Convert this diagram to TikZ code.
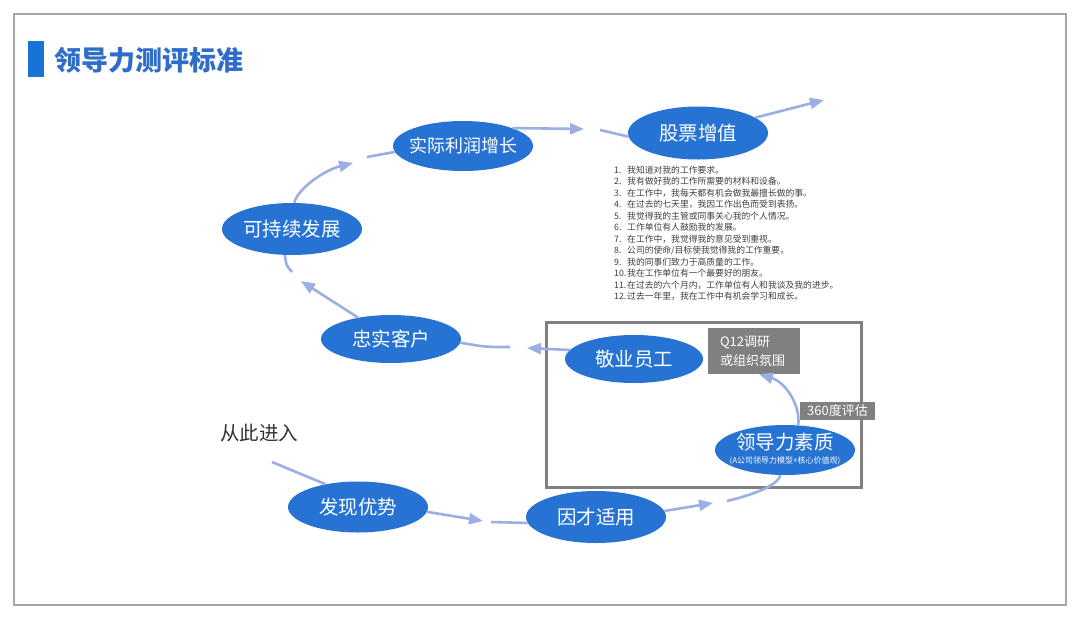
\documentclass[tikz,border=0pt]{standalone}
\usepackage{fontspec}
\setmainfont{Noto Sans CJK SC}
\usetikzlibrary{shapes.geometric,arrows.meta}
\definecolor{ellblue}{RGB}{38,115,212}
\definecolor{conn}{RGB}{155,175,228}
\definecolor{titleblue}{RGB}{46,110,200}
\definecolor{barblue}{RGB}{24,115,215}
\definecolor{boxgray}{RGB}{128,128,128}
\begin{document}
\begin{tikzpicture}[x=1pt,y=-1pt,
  oval/.style={ellipse, fill=ellblue, text=white, minimum width=140pt, minimum height=50pt, inner sep=0pt, font=\fontsize{19.5}{22}\selectfont},
  link/.style={draw=conn, line width=2.6pt},
  arr/.style={link, -{Triangle[length=14pt,width=11pt]}},
  tag/.style={fill=boxgray, text=white, inner sep=0pt, font=\fontsize{13}{19}\selectfont}
]
\useasboundingbox (0,0) rectangle (1080,619);
\fill[white] (0,0) rectangle (1080,619);
\draw[gray!70, line width=1.5pt] (14,14) rectangle (1066,605);

% title
\fill[barblue] (28,41) rectangle (44,77);
\node[anchor=west, inner sep=0pt, font=\fontsize{27}{30}\selectfont\bfseries, text=titleblue] (title) at (54,60) {领导力测评标准};

% gray frame
\draw[boxgray, line width=3pt] (546,322) rectangle (861,487);

% ellipses
\node[oval, inner xsep=-6pt, font=\fontsize{18}{20}\selectfont] (sj) at (463,146) {实际利润增长};
\node[oval, minimum height=53pt] (gp) at (698,133) {股票增值};
\node[oval, minimum height=52pt] (kc) at (292,229) {可持续发展};
\node[oval, minimum height=48pt] (zk) at (391,339) {忠实客户};
\node[oval, minimum width=138pt, minimum height=48pt] (jy) at (634,359) {敬业员工};
\node[oval] (ld) at (785,450) {};
\node[text=white, inner sep=0pt, font=\fontsize{19.5}{22}\selectfont] (ldt) at (785,442) {领导力素质};
\node[text=white, inner sep=0pt, font=\fontsize{8}{9}\selectfont] (lds) at (785,461) {(A公司领导力模型+核心价值观)};
\node[oval, minimum height=51pt] (fx) at (358,507) {发现优势};
\node[oval, minimum height=52pt] (yc) at (596,517) {因才适用};

% tags
\node[tag, minimum width=92pt, minimum height=46pt, text width=68pt, align=left] (q12) at (754,351) {Q12调研\\或组织氛围};

% start text
\node[inner sep=0pt, font=\fontsize{19.5}{22}\selectfont, text=black!80] (start) at (259,433) {从此进入};

% Q12 list
\node[anchor=north west, align=left, inner sep=0pt, font=\fontsize{8.8}{11.5}\selectfont, text=black!75] (list) at (614,165.5) {%
\makebox[13pt][l]{1.}我知道对我的工作要求。\\
\makebox[13pt][l]{2.}我有做好我的工作所需要的材料和设备。\\
\makebox[13pt][l]{3.}在工作中，我每天都有机会做我最擅长做的事。\\
\makebox[13pt][l]{4.}在过去的七天里，我因工作出色而受到表扬。\\
\makebox[13pt][l]{5.}我觉得我的主管或同事关心我的个人情况。\\
\makebox[13pt][l]{6.}工作单位有人鼓励我的发展。\\
\makebox[13pt][l]{7.}在工作中，我觉得我的意见受到重视。\\
\makebox[13pt][l]{8.}公司的使命/目标使我觉得我的工作重要。\\
\makebox[13pt][l]{9.}我的同事们致力于高质量的工作。\\
\makebox[13pt][l]{10.}我在工作单位有一个最要好的朋友。\\
\makebox[13pt][l]{11.}在过去的六个月内，工作单位有人和我谈及我的进步。\\
\makebox[13pt][l]{12.}过去一年里，我在工作中有机会学习和成长。};

% connector coordinates
\coordinate (entry) at (272,462);
\coordinate (t1) at (483,521); \coordinate (s1) at (491,522);
\coordinate (t2) at (713,503); \coordinate (s2) at (727,501);
\coordinate (s4) at (510,347); \coordinate (t4) at (527,348);
\coordinate (t5) at (301,281); \coordinate (s5) at (292,272);
\coordinate (t6) at (353,163); \coordinate (s6) at (367,157);
\coordinate (t7) at (584,129); \coordinate (s7) at (600,130);
\coordinate (t8) at (824,100);

% connectors
\draw[link] (entry) -- (fx.145);
\draw[arr] (fx.-4) -- (t1);
\draw[link] (s1) -- (yc.185);
\draw[arr] (yc.5) -- (t2);
\draw[link] (s2) .. controls (760,493) and (778,484) .. (ld.260);
\draw[arr] (ld.62) .. controls (801,405) and (785,382) .. ([xshift=5pt]q12.south);
\draw[arr] (jy.172) -- (t4);
\draw[link] (s4) .. controls (485,347) .. (zk.-3);
\draw[arr] (zk.147) -- (t5);
\draw[link] (s5) .. controls (286,265) .. (kc.255);
\draw[arr] (kc.85) .. controls (298,188) and (325,170) .. (t6);
\draw[link] (s6) -- (sj.185);
\draw[arr] (sj.20) -- (t7);
\draw[link] (s7) -- (gp.183);
\draw[arr] (gp.15) -- (t8);

% 360 tag on top
\node[tag, minimum width=75pt, minimum height=18pt] (p360) at (837.5,411) {360度评估};
\end{tikzpicture}
\end{document}
